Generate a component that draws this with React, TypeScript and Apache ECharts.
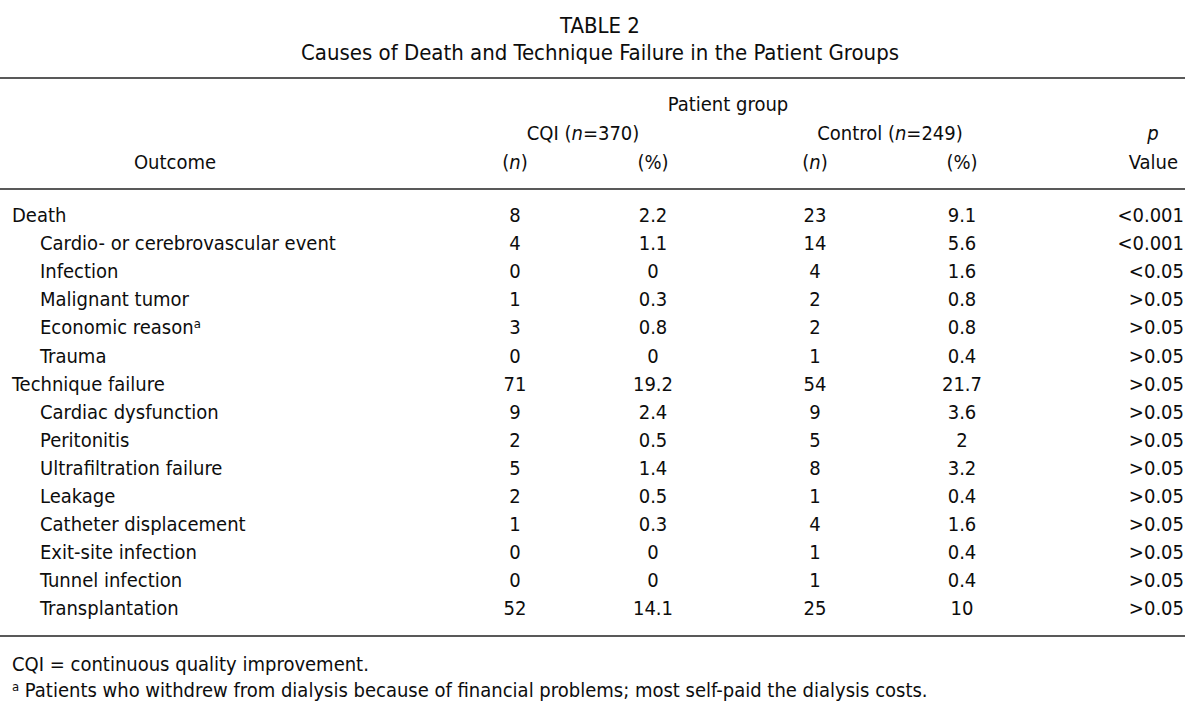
import React, { useEffect, useRef } from "react";
import * as echarts from "echarts";

const title = "TABLE 2";
const subtitle = "Causes of Death and Technique Failure in the Patient Groups";
const outcomes = [
  "Death",
  "Cardio- or cerebrovascular event",
  "Infection",
  "Malignant tumor",
  "Economic reason",
  "Trauma",
  "Technique failure",
  "Cardiac dysfunction",
  "Peritonitis",
  "Ultrafiltration failure",
  "Leakage",
  "Catheter displacement",
  "Exit-site infection",
  "Tunnel infection",
  "Transplantation",
];
const indented = [false, true, true, true, true, true, false, true, true, true, true, true, true, true, true];
const footMark = ["", "", "", "", "a", "", "", "", "", "", "", "", "", "", ""];
const cqiN = ["8", "4", "0", "1", "3", "0", "71", "9", "2", "5", "2", "1", "0", "0", "52"];
const cqiPct = ["2.2", "1.1", "0", "0.3", "0.8", "0", "19.2", "2.4", "0.5", "1.4", "0.5", "0.3", "0", "0", "14.1"];
const ctrlN = ["23", "14", "4", "2", "2", "1", "54", "9", "5", "8", "1", "4", "1", "1", "25"];
const ctrlPct = ["9.1", "5.6", "1.6", "0.8", "0.8", "0.4", "21.7", "3.6", "2", "3.2", "0.4", "1.6", "0.4", "0.4", "10"];
const pValues = ["<0.001", "<0.001", "<0.05", ">0.05", ">0.05", ">0.05", ">0.05", ">0.05", ">0.05", ">0.05", ">0.05", ">0.05", ">0.05", ">0.05", ">0.05"];
const footnote1 = "CQI = continuous quality improvement.";
const footnote2 = " Patients who withdrew from dialysis because of financial problems; most self-paid the dialysis costs.";

const FONT = "'Liberation Sans Narrow', 'DejaVu Sans Condensed', 'Open Sans', sans-serif";
const COLOR = "#0d0d0d";

export default function App() {
  const ref = useRef<HTMLDivElement>(null);
  useEffect(() => {
    if (!ref.current) return;
    const chart = echarts.init(ref.current, undefined, { renderer: "svg" });
    const fs = 20;
    const base = { fontFamily: FONT, fontSize: fs, fill: COLOR };
    const rich = {
      i: { fontFamily: FONT, fontSize: fs, fontStyle: "italic", color: COLOR },
      r: { fontFamily: FONT, fontSize: fs, color: COLOR },
      sup: { fontFamily: FONT, fontSize: 13, color: COLOR, verticalAlign: "top", padding: [0, 0, 8, 0] },
    };
    const els: any[] = [];
    const txt = (x: number, y: number, text: string, align: string = "center", extra: any = {}) =>
      els.push({
        type: "text",
        x,
        y,
        style: { ...base, text, align, verticalAlign: "middle", rich, ...extra },
      });
    const line = (y: number) =>
      els.push({
        type: "line",
        shape: { x1: 0, y1: y, x2: 1185, y2: y },
        style: { stroke: "#222", lineWidth: 1.5 },
      });

    txt(600, 25, title, "center", { fontSize: 22 });
    txt(600, 52, subtitle, "center", { fontSize: 22 });
    line(78);
    txt(728, 104, "Patient group");
    txt(583, 133, "{r|CQI (}{i|n}{r|=370)}");
    txt(890, 133, "{r|Control (}{i|n}{r|=249)}");
    txt(1153, 133, "{i|p}");
    txt(175, 162, "Outcome");
    const colX = [515, 653, 815, 962];
    txt(colX[0], 162, "{r|(}{i|n}{r|)}");
    txt(colX[1], 162, "(%)");
    txt(colX[2], 162, "{r|(}{i|n}{r|)}");
    txt(colX[3], 162, "(%)");
    txt(1178, 162, "Value", "right");
    line(189);

    const y0 = 215;
    const dy = 28.1;
    outcomes.forEach((o, k) => {
      const y = y0 + k * dy;
      const label = footMark[k] ? `{r|${o}}{sup|${footMark[k]}}` : o;
      txt(indented[k] ? 40 : 12, y, label, "left");
      txt(colX[0], y, cqiN[k]);
      txt(colX[1], y, cqiPct[k]);
      txt(colX[2], y, ctrlN[k]);
      txt(colX[3], y, ctrlPct[k]);
      txt(1184, y, pValues[k], "right");
    });
    line(636);
    txt(12, 664, footnote1, "left");
    txt(12, 690, `{sup|a}{r|${footnote2}}`, "left");

    chart.setOption({ animation: false, graphic: { elements: els } });
    return () => chart.dispose();
  }, []);
  return (
    <div
      ref={ref}
      style={{ position: "fixed", left: 0, top: 0, width: 1200, height: 716, background: "#fff" }}
    />
  );
}
